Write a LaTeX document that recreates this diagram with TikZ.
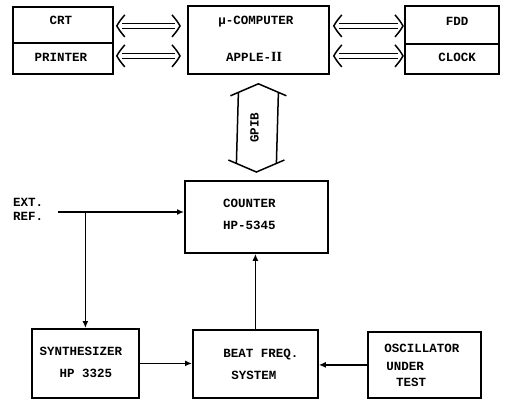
\documentclass[tikz,border=0pt]{standalone}
\usepackage{fontspec}
\setmainfont{Liberation Mono}
\newfontfamily\romanfont{Liberation Serif}
\usetikzlibrary{calc,arrows.meta}
\newcommand\hollowH[2]{%
  \draw[hollow] ($(#1)+(8,-11)$) .. controls ($(#1)+(3,-5)$) .. (#1) .. controls ($(#1)+(3,5)$) .. ($(#1)+(8,11)$);
  \draw[hollow] ($(#2)+(-8,-11)$) .. controls ($(#2)+(-3,-5)$) .. (#2) .. controls ($(#2)+(-3,5)$) .. ($(#2)+(-8,11)$);
  \draw[hollow] ($(#1)+(5,-2.5)$) -- ($(#2)+(-5,-2.5)$);
  \draw[hollow] ($(#1)+(5,2.5)$) -- ($(#2)+(-5,2.5)$);
}
\begin{document}
\begin{tikzpicture}[x=1pt,y=-1pt,
  box/.style={draw, line width=1.8pt, inner sep=0pt, anchor=north west},
  lbl/.style={font=\bfseries\fontsize{12.5}{14}\selectfont, inner sep=0pt},
  hollow/.style={line width=1.5pt},
  conn/.style={line width=1.7pt, -{Latex[length=7pt,width=6pt]}}]
\useasboundingbox (0,0) rectangle (511,400);
% boxes
\node[box, minimum width=100, minimum height=36] (crt) at (12,6) {};
\node[box, minimum width=100, minimum height=31] (printer) at (12,42) {};
\node[box, minimum width=141, minimum height=68] (comp) at (187,5) {};
\node[box, minimum width=94, minimum height=38] (fdd) at (404,5) {};
\node[box, minimum width=94, minimum height=30] (clock) at (404,43) {};
\node[box, minimum width=143, minimum height=72] (counter) at (184,180) {};
\node[box, minimum width=107, minimum height=69] (synth) at (31,328) {};
\node[box, minimum width=125, minimum height=68] (beat) at (192,329) {};
\node[box, minimum width=113, minimum height=66] (osc) at (367,331) {};
% texts
\node[lbl] (tcrt) at (61,20) {CRT};
\node[lbl] (tprinter) at (61,57) {PRINTER};
\node[lbl] (tcomp1) at (256,22) {μ-COMPUTER};
\node[lbl] (tcomp2) at (254,57) {APPLE-{\romanfont\bfseries\fontsize{14}{14}\selectfont II}};
\node[lbl] (tfdd) at (457,21) {FDD};
\node[lbl] (tclock) at (457,57) {CLOCK};
\node[lbl, anchor=west] (tcnt1) at (223,203) {COUNTER};
\node[lbl, anchor=west] (tcnt2) at (223,225) {HP-5345};
\node[lbl, anchor=west] (text1) at (13,202) {EXT.};
\node[lbl, anchor=west] (text2) at (13,216) {REF.};
\node[lbl] (tsyn1) at (81,351) {SYNTHESIZER};
\node[lbl] (tsyn2) at (86,373) {HP 3325};
\node[lbl] (tbeat1) at (261,355) {BEAT FREQ.};
\node[lbl] (tbeat2) at (254,375) {SYSTEM};
\node[lbl] (tosc1) at (422,348) {OSCILLATOR};
\node[lbl] (tosc2) at (405,366) {UNDER};
\node[lbl] (tosc3) at (411,382) {TEST};
% hollow bus arrows
\coordinate (h1l) at ($(crt.east)+(3,1)$);
\coordinate (h1r) at ($(comp.west |- h1l)+(-7,0)$);
\coordinate (h2l) at ($(printer.east)+(3,-2.5)$);
\coordinate (h2r) at ($(comp.west |- h2l)+(-7,0)$);
\coordinate (h3l) at ($(comp.east |- h1l)+(4,0)$);
\coordinate (h3r) at ($(fdd.west |- h1l)+(-1,0)$);
\coordinate (h4l) at ($(comp.east |- h2l)+(4,0)$);
\coordinate (h4r) at ($(clock.west |- h2l)+(-1,0)$);
\hollowH{h1l}{h1r}
\hollowH{h2l}{h2r}
\hollowH{h3l}{h3r}
\hollowH{h4l}{h4r}
% GPIB vertical hollow arrow
\coordinate (gt) at ($(comp.south)+(0,9)$);
\coordinate (gb) at ($(counter.north)+(0,-8)$);
\draw[hollow] ($(gt)+(-28,12)$) -- (gt) -- ($(gt)+(28,12)$);
\draw[hollow] ($(gb)+(-28,-12)$) -- (gb) -- ($(gb)+(28,-12)$);
\draw[hollow] ($(gt)+(-20,8.6)$) -- ($(gb)+(-20,-8.6)$);
\draw[hollow] ($(gt)+(20,8.6)$) -- ($(gb)+(20,-8.6)$);
\node[lbl, rotate=90] (gpib) at ($($(gt)!0.5!(gb)$)+(-3,0)$) {GPIB};
% connectors
\coordinate (ext) at (58,212);
\coordinate (j) at (synth.north |- ext);
\draw[conn] (ext) -- (counter.west |- ext);
\draw[conn] (j) -- (synth.north);
\draw[conn] (synth.east) -- (beat.west |- synth.east);
\draw[conn] (osc.west) -- (beat.east |- osc.west);
\draw[conn] (beat.north) -- (counter.south -| beat.north);
\end{tikzpicture}
\end{document}
